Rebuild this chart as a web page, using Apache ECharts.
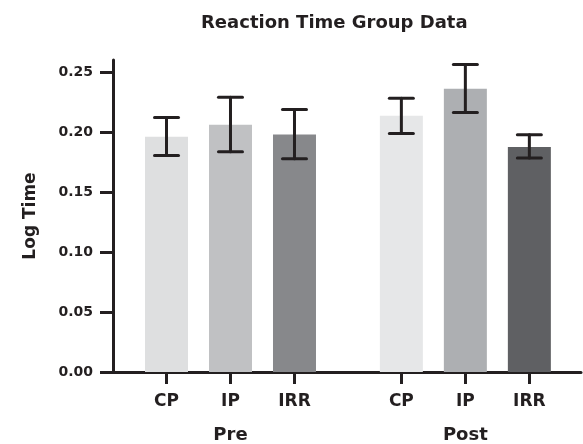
<!DOCTYPE html>
<html>
<head>
<meta charset="utf-8">
<script src="https://cdn.jsdelivr.net/npm/echarts@6/dist/echarts.min.js"></script>
<style>
html, body { margin: 0; padding: 0; background: #fff; }
#chart { width: 583px; height: 444px; }
</style>
</head>
<body>
<div id="chart"></div>
<script>
// data
var groups = ['Pre', 'Post']
var categories = ['CP', 'IP', 'IRR']
var means = [
    [0.196, 0.206, 0.198],   // Pre
    [0.2135, 0.236, 0.1875]  // Post
]
var lower = [
    [0.1805, 0.1835, 0.1778],
    [0.1988, 0.2162, 0.1783]
]
var upper = [
    [0.212, 0.229, 0.2187],
    [0.2281, 0.2563, 0.1977]
]
var yTicks = [0, 0.05, 0.10, 0.15, 0.20, 0.25]
var barColors = [
    ['#dedfe0', '#c0c1c3', '#87888b'],
    ['#e6e7e8', '#adafb2', '#5f6063']
]

var ink = '#231f20'
var font = 'DejaVu Sans'
var groupGap = 1.67 // extra space between Pre and Post, in bar steps

// x position of each bar, from group and category index
function xPos(gi, ci) {
    return gi * (categories.length - 1 + groupGap) + ci
}

var barData = []
var errData = []
var tickPos = []
var tickName = {}
var groupPos = []
groups.forEach(function (g, gi) {
    categories.forEach(function (c, ci) {
        var x = xPos(gi, ci)
        tickPos.push(x)
        tickName[x.toFixed(3)] = c
        barData.push({ value: [x, means[gi][ci]], itemStyle: { color: barColors[gi][ci] } })
        errData.push([x, lower[gi][ci], upper[gi][ci]])
    })
    groupPos.push(xPos(gi, (categories.length - 1) / 2))
})

var myChart = echarts.init(document.getElementById('chart'))

var option = {
    animation: false,
    backgroundColor: '#fff',
    title: {
        text: 'Reaction Time Group Data',
        left: 196,
        top: 9,
        textStyle: { fontFamily: font, fontWeight: 'bold', fontSize: 18, color: ink }
    },
    grid: { left: 113, right: 2, top: 60, bottom: 71, containLabel: false },
    xAxis: [{
        type: 'value',
        min: -0.836,
        max: 6.477,
        axisLine: { show: true, onZero: false, lineStyle: { color: ink, width: 3 } },
        axisTick: { show: true, customValues: tickPos, length: 12, lineStyle: { color: ink, width: 3 } },
        axisLabel: {
            customValues: tickPos,
            margin: 21,
            fontFamily: font, fontWeight: 'bold', fontSize: 17, color: ink,
            formatter: function (v) { return tickName[Number(v).toFixed(3)] || '' }
        },
        splitLine: { show: false }
    }, {
        type: 'value',
        position: 'bottom',
        min: -0.836,
        max: 6.477,
        axisLine: { show: false, onZero: false },
        axisTick: { show: false },
        axisLabel: {
            customValues: groupPos,
            margin: 54,
            fontFamily: font, fontWeight: 'bold', fontSize: 18, color: ink,
            formatter: function (v) {
                var i = groupPos.findIndex(function (p) { return Math.abs(p - v) < 1e-6 })
                return i >= 0 ? groups[i] : ''
            }
        },
        splitLine: { show: false }
    }],
    yAxis: {
        type: 'value',
        min: 0,
        max: 0.26,
        name: 'Log Time',
        nameLocation: 'middle',
        nameGap: 74,
        nameRotate: 90,
        nameTextStyle: { fontFamily: font, fontWeight: 'bold', fontSize: 17, color: ink },
        axisLine: { show: true, onZero: false, lineStyle: { color: ink, width: 3 } },
        axisTick: { show: true, customValues: yTicks, length: 13, lineStyle: { color: ink, width: 3 } },
        axisLabel: {
            customValues: yTicks,
            margin: 20,
            fontFamily: font, fontWeight: 'bold', fontSize: 14, color: ink,
            formatter: function (v) { return Number(v).toFixed(2) }
        },
        splitLine: { show: false }
    },
    series: [{
        name: 'mean',
        type: 'bar',
        xAxisIndex: 0,
        barWidth: 43,
        data: barData
    }, {
        name: 'error',
        type: 'custom',
        xAxisIndex: 0,
        z: 5,
        renderItem: function (params, api) {
            var lo = api.coord([api.value(0), api.value(1)])
            var hi = api.coord([api.value(0), api.value(2)])
            var half = 12
            var style = { stroke: ink, lineWidth: 3, lineCap: 'round' }
            return {
                type: 'group',
                children: [
                    { type: 'line', shape: { x1: lo[0], y1: lo[1], x2: hi[0], y2: hi[1] }, style: style },
                    { type: 'line', shape: { x1: hi[0] - half, y1: hi[1], x2: hi[0] + half, y2: hi[1] }, style: style },
                    { type: 'line', shape: { x1: lo[0] - half, y1: lo[1], x2: lo[0] + half, y2: lo[1] }, style: style }
                ]
            }
        },
        encode: { x: 0, y: [1, 2] },
        data: errData
    }]
}

myChart.setOption(option)
</script>
</body>
</html>
